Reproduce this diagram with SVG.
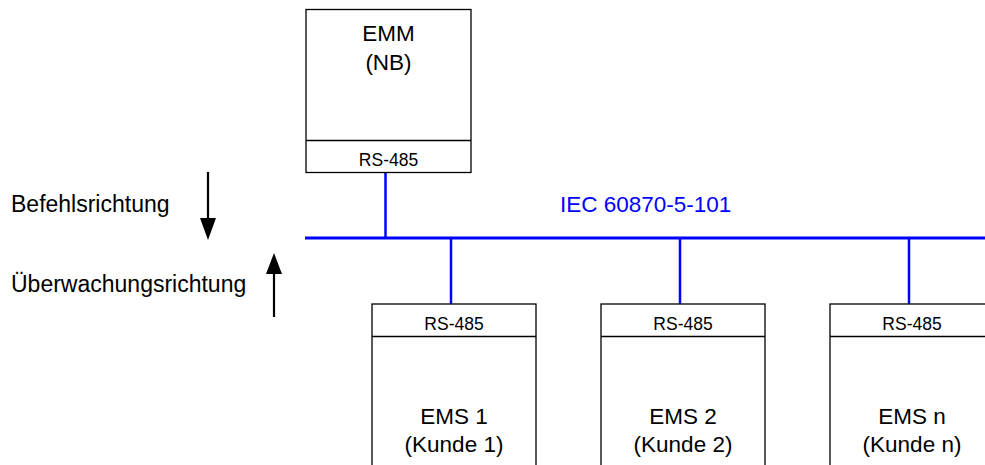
<svg xmlns="http://www.w3.org/2000/svg" width="985" height="465" viewBox="0 0 985 465">
<style>
.box{fill:#fff;stroke:#000;stroke-width:1.3}
.t{font-family:"Liberation Sans",Arial,sans-serif;font-size:22.5px;fill:#000;text-anchor:middle}
.s{font-family:"Liberation Sans",Arial,sans-serif;font-size:17.5px;fill:#000;text-anchor:middle}
.l{font-family:"Liberation Sans",Arial,sans-serif;font-size:23px;fill:#000}
.bus{stroke:#0000FF;fill:none}
.arr{stroke:#000;stroke-width:2.2;fill:none}
</style>
<rect width="985" height="465" fill="#fff"/>
<g id="connectors">
<line class="bus" x1="305" y1="238" x2="985" y2="238" stroke-width="3"/>
<line class="bus" x1="385.5" y1="172" x2="385.5" y2="238" stroke-width="2.5"/>
<line class="bus" x1="451" y1="238" x2="451" y2="304" stroke-width="2.5"/>
<line class="bus" x1="680" y1="238" x2="680" y2="304" stroke-width="2.5"/>
<line class="bus" x1="909" y1="238" x2="909" y2="304" stroke-width="2.5"/>
</g>
<g id="bus-label">
<text x="560" y="212" style="font-family:'Liberation Sans',Arial,sans-serif;font-size:22.5px;fill:#0000FF">IEC 60870-5-101</text>
</g>
<g id="direction-labels">
<text class="l" x="11" y="212">Befehlsrichtung</text>
<text class="l" x="11" y="292">Überwachungsrichtung</text>
<path d="M208,172 L208,220" class="arr"/>
<path d="M200,218 L216,218 L208,240 Z" fill="#000"/>
<path d="M274,317 L274,272" class="arr"/>
<path d="M266,274 L282,274 L274,253 Z" fill="#000"/>
</g>
<g id="emm">
<rect class="box" x="306" y="9.5" width="165" height="163"/>
<line x1="306" y1="140.5" x2="471" y2="140.5" stroke="#000" stroke-width="1.3"/>
<text class="t" x="388.5" y="41">EMM</text>
<text class="t" x="388.5" y="70">(NB)</text>
<text class="s" x="388.5" y="166">RS-485</text>
</g>
<g id="ems1">
<rect class="box" x="372" y="304" width="164" height="180"/>
<line x1="372" y1="336.5" x2="536" y2="336.5" stroke="#000" stroke-width="1.3"/>
<text class="s" x="454" y="330">RS-485</text>
<text class="t" x="454" y="424">EMS 1</text>
<text class="t" x="454" y="452">(Kunde 1)</text>
</g>
<g id="ems2">
<rect class="box" x="601" y="304" width="164" height="180"/>
<line x1="601" y1="336.5" x2="765" y2="336.5" stroke="#000" stroke-width="1.3"/>
<text class="s" x="683" y="330">RS-485</text>
<text class="t" x="683" y="424">EMS 2</text>
<text class="t" x="683" y="452">(Kunde 2)</text>
</g>
<g id="emsn">
<rect class="box" x="830" y="304" width="164" height="180"/>
<line x1="830" y1="336.5" x2="994" y2="336.5" stroke="#000" stroke-width="1.3"/>
<text class="s" x="912" y="330">RS-485</text>
<text class="t" x="912" y="424">EMS n</text>
<text class="t" x="912" y="452">(Kunde n)</text>
</g>
</svg>
